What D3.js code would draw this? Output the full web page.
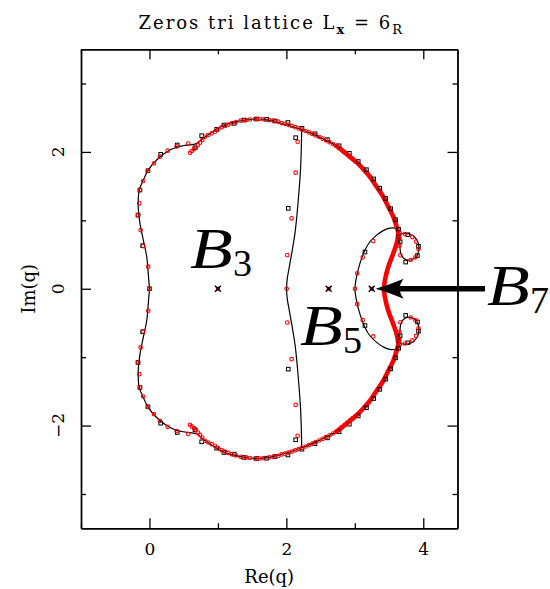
<!DOCTYPE html>
<html>
<head>
<meta charset="utf-8">
<script src="https://cdn.jsdelivr.net/npm/d3@7"></script>
<style>
  body { margin: 0; background: #fff; }
  svg { display: block; }
</style>
</head>
<body>
<svg id="chart" width="550" height="589"></svg>
<script>
// Chromatic zeros of the triangular-lattice strip, width Lx = 6.
// All lists hold the upper half-plane (Im q >= 0); the lower half is the complex conjugate.

// Limiting curve: left lobe and outer boundary, from q = 0 round to the real-axis crossing.
const outerCurve = [
  [0.0, 0.0], [-0.01, 0.127], [-0.04, 0.468], [-0.09, 0.712], [-0.139, 0.96],
  [-0.164, 1.199], [-0.149, 1.443], [-0.09, 1.589], [-0.018, 1.735], [0.105, 1.882],
  [0.251, 2.0], [0.397, 2.068], [0.494, 2.09], [0.592, 2.103], [0.665, 2.115],
  [0.713, 2.137], [0.786, 2.199], [0.86, 2.25], [0.93, 2.3], [1.03, 2.36],
  [1.15, 2.41], [1.274, 2.442], [1.42, 2.47], [1.566, 2.481], [1.75, 2.466],
  [1.907, 2.427], [2.199, 2.335], [2.393, 2.257], [2.589, 2.164], [2.735, 2.086],
  [2.881, 1.969], [3.027, 1.848], [3.123, 1.75], [3.221, 1.637], [3.319, 1.491],
  [3.416, 1.345], [3.489, 1.199], [3.562, 1.053], [3.611, 0.906], [3.635, 0.81],
  [3.611, 0.664], [3.562, 0.518], [3.489, 0.322], [3.44, 0.127], [3.426, 0.0]
];

// Stretch of the outer boundary where the zeros accumulate densely.
const denseCurve = [
  [2.735, 2.086], [2.881, 1.969], [3.027, 1.848], [3.123, 1.75], [3.221, 1.637],
  [3.319, 1.491], [3.416, 1.345], [3.489, 1.199], [3.562, 1.053], [3.611, 0.906],
  [3.635, 0.81], [3.611, 0.664], [3.562, 0.518], [3.489, 0.322], [3.44, 0.127], [3.426, 0.0]
];

// Branch through q = 2 separating the B3 and B5 regions.
const middleCurve = [
  [2.224, 2.32], [2.209, 1.784], [2.174, 1.297], [2.126, 0.814], [2.045, 0.33],
  [2.012, 0.14], [2.004, 0.0]
];

// Branch through q = 3 bounding the B5 region.
const innerCurve = [
  [3.635, 0.81], [3.6, 0.88], [3.513, 0.887], [3.415, 0.85], [3.319, 0.784],
  [3.221, 0.687], [3.148, 0.565], [3.075, 0.371], [3.022, 0.16], [3.002, 0.0]
];

// Small closed loop right of the outer boundary.
const loopCurve = [
  [3.652, 0.79], [3.718, 0.81], [3.8, 0.8], [3.87, 0.76], [3.925, 0.67],
  [3.935, 0.57], [3.9, 0.47], [3.82, 0.42], [3.735, 0.43], [3.675, 0.5],
  [3.66, 0.61], [3.655, 0.72]
];

// Zeros of the larger strip (red circles).
const redZeros = [
  [0.0, 0.0], [-0.018, 0.322], [-0.091, 0.624], [-0.129, 0.858], [-0.164, 1.077],
  [-0.149, 1.249], [-0.139, 1.443], [-0.091, 1.575], [-0.022, 1.725], [0.066, 1.833],
  [0.153, 1.93], [0.266, 2.018], [0.397, 2.08], [0.567, 2.123],
  [0.592, 1.988], [0.617, 2.013], [0.65, 2.038], [0.679, 2.061], [0.709, 2.101],
  [0.738, 2.135], [0.771, 2.174], [0.811, 2.222], [0.859, 2.247], [0.909, 2.272],
  [0.957, 2.295], [1.005, 2.33], [1.055, 2.36], [1.103, 2.379], [1.15, 2.4],
  [1.201, 2.418], [1.264, 2.437], [1.332, 2.456], [1.41, 2.466], [1.468, 2.474],
  [1.541, 2.481], [1.614, 2.481], [1.673, 2.477], [1.75, 2.466], [1.809, 2.456],
  [1.882, 2.442], [1.93, 2.421], [1.98, 2.41], [2.03, 2.396], [2.08, 2.38],
  [2.13, 2.362], [2.18, 2.343], [2.23, 2.325], [2.28, 2.306], [2.33, 2.285],
  [2.38, 2.263], [2.43, 2.241], [2.48, 2.218], [2.53, 2.194], [2.58, 2.169],
  [2.63, 2.143], [2.68, 2.116], [2.725, 2.09], [2.77, 2.058], [2.81, 2.026],
  [2.85, 1.994], [2.89, 1.961], [2.93, 1.928], [2.97, 1.895], [3.01, 1.862],
  [2.165, 2.149], [2.136, 1.696], [2.077, 1.029], [2.013, 0.493], [2.004, 0.0],
  [3.269, 0.697], [3.115, 0.459], [3.036, 0.225], [3.002, 0.0],
  [3.66, 0.81], [3.733, 0.8], [3.84, 0.755], [3.895, 0.69], [3.93, 0.58],
  [3.885, 0.46], [3.815, 0.42], [3.665, 0.49], [3.652, 0.63], [3.648, 0.74]
];

// Zeros of the smaller strip (black squares).
const blackZeros = [
  [0.0, 0.0], [-0.099, 0.629], [-0.168, 1.077], [-0.139, 1.443], [-0.022, 1.725],
  [0.164, 1.965], [0.406, 2.101], [0.665, 2.061], [0.763, 2.237], [0.982, 2.33],
  [1.088, 2.393], [1.239, 2.418], [1.381, 2.466], [1.566, 2.481], [1.712, 2.477],
  [1.833, 2.452], [2.023, 2.43], [2.228, 2.345], [2.418, 2.265], [2.6, 2.18],
  [2.77, 2.09], [2.92, 1.98], [3.05, 1.86], [3.17, 1.74], [3.275, 1.605],
  [3.365, 1.47], [3.45, 1.32], [3.525, 1.17], [3.595, 1.01], [3.64, 0.87],
  [2.136, 2.208], [2.028, 1.175], [3.148, 0.537],
  [3.645, 0.76], [3.775, 0.79], [3.93, 0.62], [3.915, 0.485], [3.743, 0.39], [3.662, 0.687]
];

// Beraha numbers B_n = 2 + 2 cos(2 pi / n) marked on the real axis.
const berahaNames = ["3", "5", "7"];
const berahaValues = [1.0, 2.618, 3.247];

// Axis ticks.
const xMajorTicks = [0, 2, 4];
const xMinorTicks = [-1, 1, 3];
const yMajorTicks = [-2, 0, 2];
const yMinorTicks = [-3, -1, 1, 3];

const titleMain = "Zeros tri lattice L";
const titleSub1 = "x";
const titleMid = " = 6";
const titleSub2 = "R";
const xLabel = "Re(q)";
const yLabel = "Im(q)";

// ---------------------------------------------------------------------------
const svg = d3.select("#chart");
svg.append("rect").attr("width", 550).attr("height", 589).attr("fill", "#fff");

const frameL = 81, frameR = 457.5, frameT = 49.3, frameB = 528.2;
const x = d3.scaleLinear().domain([-1, 4.5]).range([frameL, frameR]);
const y = d3.scaleLinear().domain([-3.5, 3.5]).range([frameB, frameT]);

const conj = pts => pts.map(([a, b]) => [a, -b]);
// Upper half followed by its mirror image, joined across the real axis.
const throughAxis = pts => pts.concat(conj(pts).reverse().slice(1));

svg.append("clipPath").attr("id", "plotclip")
  .append("rect").attr("x", frameL).attr("y", frameT)
  .attr("width", frameR - frameL).attr("height", frameB - frameT);
const plot = svg.append("g").attr("clip-path", "url(#plotclip)");

const smooth = d3.line().x(d => x(d[0])).y(d => y(d[1])).curve(d3.curveCatmullRom.alpha(0.5));
const smoothClosed = d3.line().x(d => x(d[0])).y(d => y(d[1])).curve(d3.curveCatmullRomClosed.alpha(0.5));

// Thin black limiting curves
const curveStyle = sel => sel.attr("fill", "none").attr("stroke", "#000").attr("stroke-width", 1.2);
plot.append("path").attr("d", smooth(conj(outerCurve).reverse().concat(outerCurve.slice(1)))).call(curveStyle);
plot.append("path").attr("d", smooth(throughAxis(middleCurve))).call(curveStyle);
plot.append("path").attr("d", smooth(throughAxis(innerCurve))).call(curveStyle);
plot.append("path").attr("d", smoothClosed(loopCurve)).call(curveStyle);
plot.append("path").attr("d", smoothClosed(conj(loopCurve))).call(curveStyle);

// Densely packed zeros along the right-hand boundary
plot.append("path").attr("d", smooth(throughAxis(denseCurve)))
  .attr("fill", "none").attr("stroke", "#ff0000").attr("stroke-width", 4.6)
  .attr("stroke-linecap", "round");

// Black squares
const allBlack = blackZeros.concat(conj(blackZeros.filter(d => d[1] !== 0)));
const sq = 3.6;
plot.append("g").selectAll("rect").data(allBlack).join("rect")
  .attr("x", d => x(d[0]) - sq / 2).attr("y", d => y(d[1]) - sq / 2)
  .attr("width", sq).attr("height", sq)
  .attr("fill", "none").attr("stroke", "#000").attr("stroke-width", 1);

// Red circles
const allRed = redZeros.concat(conj(redZeros.filter(d => d[1] !== 0)));
plot.append("g").selectAll("circle").data(allRed).join("circle")
  .attr("cx", d => x(d[0])).attr("cy", d => y(d[1])).attr("r", 1.8)
  .attr("fill", "none").attr("stroke", "#ff0000").attr("stroke-width", 1.1);

// Beraha-number markers
const bm = plot.append("g").selectAll("g").data(berahaValues).join("g")
  .attr("transform", d => `translate(${x(d)},${y(0)})`);
bm.append("rect").attr("x", -2).attr("y", -2).attr("width", 4).attr("height", 4).attr("fill", "#d00000");
bm.append("path").attr("d", "M-3,-3L3,3M-3,3L3,-3").attr("stroke", "#000").attr("stroke-width", 1.3);

// Frame and ticks (ticks point inward on all four sides)
const axisFont = "'DejaVu Serif', serif";
const fmt = d3.format("d");
const axes = svg.append("g");
function styleAxis(g) {
  g.selectAll(".domain").attr("stroke", "#000").attr("stroke-width", 1.4);
  g.selectAll(".tick line").attr("stroke", "#000").attr("stroke-width", 1.3);
}
axes.append("g").attr("transform", `translate(0,${frameB})`)
  .call(d3.axisBottom(x).tickValues(xMajorTicks).tickFormat(fmt).tickSize(-10).tickSizeOuter(0).tickPadding(15))
  .call(styleAxis)
  .call(g => g.selectAll("text").attr("font-family", axisFont).attr("font-size", 17).attr("fill", "#000"));
axes.append("g").attr("transform", `translate(0,${frameB})`)
  .call(d3.axisBottom(x).tickValues(xMinorTicks).tickSize(-5).tickSizeOuter(0).tickFormat(""))
  .call(styleAxis);
axes.append("g").attr("transform", `translate(0,${frameT})`)
  .call(d3.axisTop(x).tickValues(xMajorTicks).tickSize(-10).tickSizeOuter(0).tickFormat(""))
  .call(styleAxis);
axes.append("g").attr("transform", `translate(0,${frameT})`)
  .call(d3.axisTop(x).tickValues(xMinorTicks).tickSize(-5).tickSizeOuter(0).tickFormat(""))
  .call(styleAxis);
axes.append("g").attr("transform", `translate(${frameL},0)`)
  .call(d3.axisLeft(y).tickValues(yMajorTicks).tickSize(-10).tickSizeOuter(0).tickFormat(""))
  .call(styleAxis);
axes.append("g").attr("transform", `translate(${frameL},0)`)
  .call(d3.axisLeft(y).tickValues(yMinorTicks).tickSize(-5).tickSizeOuter(0).tickFormat(""))
  .call(styleAxis);
axes.append("g").attr("transform", `translate(${frameR},0)`)
  .call(d3.axisRight(y).tickValues(yMajorTicks).tickSize(-10).tickSizeOuter(0).tickFormat(""))
  .call(styleAxis);
axes.append("g").attr("transform", `translate(${frameR},0)`)
  .call(d3.axisRight(y).tickValues(yMinorTicks).tickSize(-5).tickSizeOuter(0).tickFormat(""))
  .call(styleAxis);

// Rotated y tick labels
svg.append("g").selectAll("text").data(yMajorTicks).join("text")
  .attr("transform", d => `translate(64,${y(d)}) rotate(-90)`)
  .attr("text-anchor", "middle")
  .attr("font-family", axisFont).attr("font-size", 17).attr("fill", "#000")
  .text(d => fmt(d));

// Axis titles
svg.append("text").attr("x", (frameL + frameR) / 2).attr("y", 583)
  .attr("text-anchor", "middle").attr("font-family", axisFont).attr("font-size", 18)
  .text(xLabel);
svg.append("text").attr("transform", `translate(35,${(frameT + frameB) / 2}) rotate(-90)`)
  .attr("text-anchor", "middle").attr("font-family", axisFont).attr("font-size", 18)
  .text(yLabel);

// Title
const t = svg.append("text").attr("x", (frameL + frameR) / 2 + 2).attr("y", 29)
  .attr("text-anchor", "middle").attr("font-family", axisFont).attr("font-size", 18)
  .attr("letter-spacing", 2);
t.append("tspan").text(titleMain);
t.append("tspan").attr("font-size", 13).attr("dy", 5).attr("font-weight", "bold").text(titleSub1);
t.append("tspan").attr("dy", -5).text(titleMid);
t.append("tspan").attr("font-size", 13).attr("dy", 5).text(titleSub2);

// Beraha labels
const labelPos = [[190, 268], [300, 345], [487, 305]];
berahaNames.forEach((n, i) => {
  const [lx, ly] = labelPos[i];
  const g = svg.append("g").attr("transform", `translate(${lx},${ly})`);
  g.append("text").attr("transform", "scale(1.25,1)")
    .attr("font-family", "'Liberation Serif', serif").attr("font-style", "italic")
    .attr("font-size", 56).text("B");
  g.append("text").attr("x", 43).attr("y", 8)
    .attr("font-family", "'Liberation Serif', serif").attr("font-size", 38).text(n);
});

// Arrow pointing at B7 on the real axis
const ay = y(0);
const tipX = x(berahaValues[2]) + 4;
svg.append("line").attr("x1", tipX + 20).attr("x2", 485).attr("y1", ay).attr("y2", ay)
  .attr("stroke", "#000").attr("stroke-width", 5.5);
svg.append("path")
  .attr("d", `M${tipX},${ay} Q${tipX + 14},${ay - 4} ${tipX + 28},${ay - 10} Q${tipX + 20},${ay} ${tipX + 28},${ay + 10} Q${tipX + 14},${ay + 4} ${tipX},${ay} Z`)
  .attr("fill", "#000");
</script>
</body>
</html>
